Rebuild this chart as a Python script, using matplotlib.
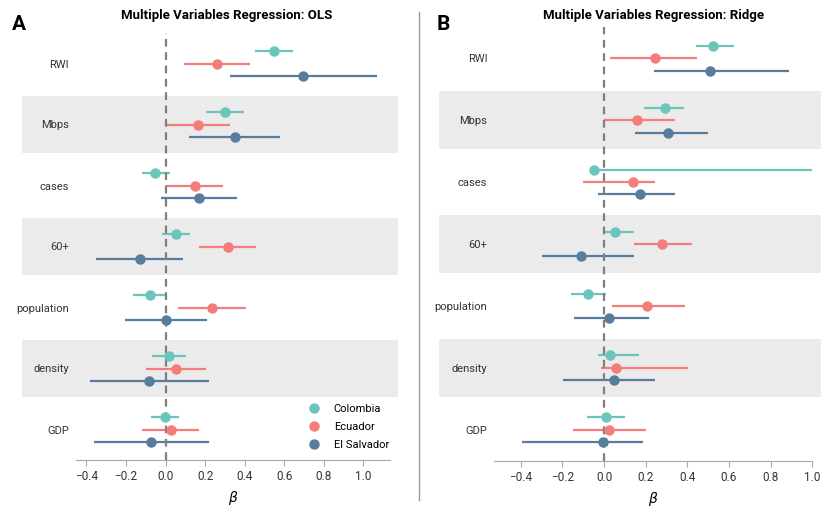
import numpy as np
import matplotlib
matplotlib.use("Agg")
import matplotlib.pyplot as plt
from matplotlib.patches import Rectangle
from matplotlib.lines import Line2D
import matplotlib.transforms as mtransforms

plt.rcParams["font.family"] = ["Roboto", "DejaVu Sans"]

variables = ["RWI", "Mbps", "cases", "60+", "population", "density", "GDP"]
countries = ["Colombia", "Ecuador", "El Salvador"]
colors = ["#6cc5bc", "#f47c7a", "#587c9c"]

# OLS coefficients and CI (lower, upper), one list per country, in variable order
ols_coef = {
    "Colombia":    [0.548, 0.300, -0.052, 0.052, -0.079, 0.017, -0.005],
    "Ecuador":     [0.261, 0.162, 0.147, 0.313, 0.233, 0.051, 0.025],
    "El Salvador": [0.696, 0.349, 0.170, -0.132, 0.000, -0.083, -0.074],
}
ols_low = {
    "Colombia":    [0.450, 0.205, -0.120, -0.017, -0.165, -0.068, -0.074],
    "Ecuador":     [0.094, 0.000, 0.000, 0.170, 0.064, -0.101, -0.120],
    "El Salvador": [0.325, 0.119, -0.022, -0.352, -0.207, -0.383, -0.362],
}
ols_high = {
    "Colombia":    [0.645, 0.394, 0.022, 0.121, 0.003, 0.101, 0.067],
    "Ecuador":     [0.428, 0.324, 0.288, 0.458, 0.408, 0.202, 0.168],
    "El Salvador": [1.067, 0.578, 0.362, 0.089, 0.209, 0.219, 0.217],
}

# Ridge coefficients and CI
ridge_coef = {
    "Colombia":    [0.525, 0.293, -0.048, 0.054, -0.075, 0.027, 0.010],
    "Ecuador":     [0.243, 0.157, 0.141, 0.280, 0.208, 0.058, 0.026],
    "El Salvador": [0.510, 0.307, 0.173, -0.110, 0.026, 0.048, -0.006],
}
ridge_low = {
    "Colombia":    [0.440, 0.194, -0.048, 0.000, -0.157, -0.029, -0.082],
    "Ecuador":     [0.027, 0.000, -0.099, 0.142, 0.037, -0.016, -0.147],
    "El Salvador": [0.242, 0.150, -0.027, -0.296, -0.144, -0.198, -0.395],
}
ridge_high = {
    "Colombia":    [0.626, 0.382, 1.000, 0.146, 0.010, 0.166, 0.102],
    "Ecuador":     [0.446, 0.341, 0.246, 0.424, 0.387, 0.405, 0.202],
    "El Salvador": [0.888, 0.499, 0.341, 0.142, 0.218, 0.243, 0.186],
}

ticks = [-0.4, -0.2, 0.0, 0.2, 0.4, 0.6, 0.8, 1.0]
offsets = [0.2, 0.0, -0.2]

W, H = 831, 514
fig = plt.figure(figsize=(W / 100, H / 100), dpi=100)


def panel(rect, xlim, coef, low, high, title, letter, letter_x, title_x, legend=False):
    ax = fig.add_axes(rect)
    ax.set_xlim(*xlim)
    ax.set_ylim(-0.5, len(variables) - 0.5)
    ypos = np.arange(len(variables))[::-1]

    # grey bands for every other variable (extend past axes)
    trans = mtransforms.blended_transform_factory(ax.transAxes, ax.transData)
    for i, y in enumerate(ypos):
        if i % 2 == 1:
            ax.add_patch(Rectangle((-0.173, y - 0.465), 1.199, 0.93, transform=trans,
                                   facecolor="#ebebeb", edgecolor="none",
                                   clip_on=False, zorder=0))

    for c, col, off in zip(countries, colors, offsets):
        ax.hlines(ypos + off, low[c], high[c], color=col, lw=1.6, zorder=2)
    ax.axvline(0, color="#7f7f7f", ls=(0, (3.5, 2.5)), lw=1.6, zorder=3)
    for c, col, off in zip(countries, colors, offsets):
        ax.plot(coef[c], ypos + off, "o", color=col, ms=6.5, zorder=4, label=c)

    ax.set_yticks(ypos)
    ax.set_yticklabels(variables, fontsize=8, color="#333333")
    ax.tick_params(axis="y", length=0, pad=5)
    ax.set_xticks(ticks)
    ax.set_xticklabels([f"{t:.1f}".replace("-", "\u2212") for t in ticks],
                       fontsize=8.5, color="#333333")
    ax.tick_params(axis="x", length=4, color="#aaaaaa", width=0.8)
    for s in ["top", "right", "left"]:
        ax.spines[s].set_visible(False)
    ax.spines["bottom"].set_color("#aaaaaa")
    ax.set_xlabel(r"$\beta$", fontsize=10, labelpad=4)
    ax.patch.set_alpha(0)

    fig.text(title_x / W, 1 - 16 / H, title, ha="center", va="center",
             fontsize=9.5, fontweight="bold")
    fig.text(letter_x / W, 1 - 25 / H, letter, ha="left", va="center",
             fontsize=15, fontweight="bold")

    if legend:
        ax.legend(loc="lower left", bbox_to_anchor=(0.704, 0.0), frameon=False,
                  fontsize=8, handletextpad=1.2, labelspacing=0.72,
                  handlelength=1.2)
    return ax


panel([76 / W, 1 - 460 / H, 314 / W, 427 / H], (-0.453, 1.134),
      ols_coef, ols_low, ols_high, "Multiple Variables Regression: OLS", "A",
      12, 227, legend=True)
panel([494.3 / W, 1 - 460.7 / H, 318 / W, 433.4 / H], (-0.527, 1.0),
      ridge_coef, ridge_low, ridge_high, "Multiple Variables Regression: Ridge", "B",
      437, 654)

fig.add_artist(Line2D([419 / W, 419 / W], [1 - 12 / H, 1 - 500 / H],
                      transform=fig.transFigure, color="#999999", lw=1.0))

fig.savefig("out.png", dpi=100)
